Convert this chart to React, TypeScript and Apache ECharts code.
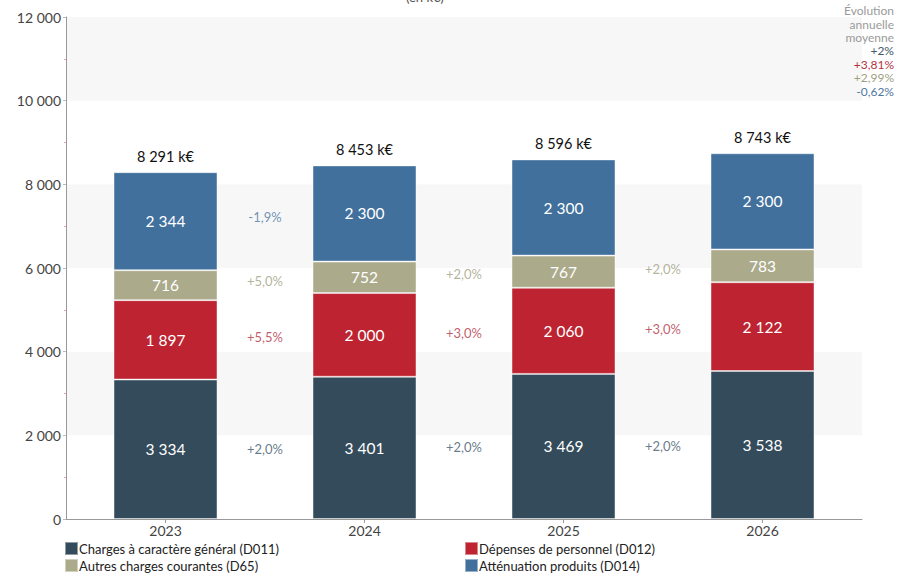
import React, { useEffect, useRef } from "react";
import * as echarts from "echarts";

const years = ["2023", "2024", "2025", "2026"];
const d011 = [3334, 3401, 3469, 3538];
const d012 = [1897, 2000, 2060, 2122];
const d65 = [716, 752, 767, 783];
const d014 = [2344, 2300, 2300, 2300];

const seriesNames = [
  "Charges à caractère général (D011)",
  "Dépenses de personnel (D012)",
  "Autres charges courantes (D65)",
  "Atténuation produits (D014)",
];
const colors = ["#344b5b", "#bd2331", "#abaa8b", "#41709d"];
const growthColors = ["#41576a", "#b3323f", "#a09f82", "#4f77a0"];

// growth labels between consecutive years, per series (null = not shown)
const growthD011 = ["+2,0%", "+2,0%", "+2,0%"];
const growthD012 = ["+5,5%", "+3,0%", "+3,0%"];
const growthD65 = ["+5,0%", "+2,0%", "+2,0%"];
const growthD014 = ["-1,9%", null, null];

const avgLabels = ["+2%", "+3,81%", "+2,99%", "-0,62%"];
const avgTitle = ["Évolution", "annuelle", "moyenne"];
const yTicks = { min: 0, max: 12000, interval: 2000 };

const FONT = "Lato";

function fmt(n: number) {
  return String(n).replace(/\B(?=(\d{3})+(?!\d))/g, " ");
}

export default function App() {
  const ref = useRef<HTMLDivElement>(null);
  useEffect(() => {
    document.body.style.margin = "0";
    if (!ref.current) return;
    const chart = echarts.init(ref.current, null, { renderer: "svg" });
    const stacks = [d011, d012, d65, d014];
    const growth = [growthD011, growthD012, growthD65, growthD014];
    const totals = years.map((_, i) => stacks.reduce((s, a) => s + a[i], 0));
    const centers = stacks.map((arr, k) =>
      arr.map((v, i) => {
        let below = 0;
        for (let j = 0; j < k; j++) below += stacks[j][i];
        return below + v / 2;
      })
    );

    const barSeries = stacks.map((arr, k) => ({
      name: seriesNames[k],
      type: "bar",
      stack: "total",
      barWidth: 104,
      data: arr,
      itemStyle: {
        color: colors[k],
        borderColor: "rgba(255,255,255,0.45)",
        borderWidth: 1,
      },
      label: {
        show: true,
        position: "inside",
        color: "#ffffff",
        fontSize: 15.5,
        fontFamily: FONT,
        formatter: (p: any) => fmt(p.value),
      },
      z: 2,
    }));

    const totalSeries = {
      name: "totals",
      type: "bar",
      stack: "total",
      barWidth: 104,
      data: years.map(() => 0),
      itemStyle: { color: "transparent" },
      label: {
        show: true,
        position: "top",
        distance: 8,
        color: "#111111",
        fontSize: 14.5,
        fontFamily: FONT,
        formatter: (p: any) => fmt(totals[p.dataIndex]) + " k€",
      },
      silent: true,
    };

    const growthSeries = growth.map((g, k) => ({
      name: "growth" + k,
      type: "scatter",
      xAxisIndex: 1,
      yAxisIndex: 0,
      symbolSize: 0,
      silent: true,
      data: g
        .map((txt, i) =>
          txt
            ? {
                value: [i + 1, (centers[k][i] + centers[k][i + 1]) / 2],
                txt,
              }
            : null
        )
        .filter((x) => x),
      label: {
        show: true,
        position: "inside",
        color: growthColors[k],
        fontSize: 13,
        fontFamily: FONT,
        formatter: (p: any) => p.data.txt,
      },
      z: 5,
    }));

    const rich: any = {
      t: { fill: "#9a9a9a", fontSize: 12, fontFamily: FONT, lineHeight: 13.4, align: "right" },
    };
    avgLabels.forEach((_, i) => {
      rich["g" + i] = {
        fill: growthColors[i],
        fontSize: 12,
        fontFamily: FONT,
        lineHeight: 13.4,
        align: "right",
      };
    });
    const avgText =
      avgTitle.map((t) => `{t|${t}}`).join("\n") +
      "\n" +
      avgLabels.map((t, i) => `{g${i}|${t}}`).join("\n");

    const graphics: any[] = [
      {
        type: "text",
        x: 425,
        y: -3,
        z: 100,
        style: {
          text: "(en k€)",
          fill: "#555555",
          font: `13px ${FONT}`,
          align: "center",
          verticalAlign: "middle",
        },
      },
      {
        type: "text",
        x: 894,
        y: 4,
        z: 100,
        style: {
          text: avgText,
          rich,
          align: "right",
          verticalAlign: "top",
        },
      },
    ];

    const legendText = { color: "#222222", fontSize: 13, fontFamily: FONT, padding: [0, 0, 0, -4] };
    chart.setOption({
      animation: false,
      textStyle: { fontFamily: FONT },
      grid: { left: 66, right: 42, top: 17, bottom: 55 },
      legend: [
        {
          orient: "vertical",
          left: 64,
          top: 541,
          itemWidth: 13,
          itemHeight: 13,
          itemGap: 2,
          padding: 0,
          icon: "rect",
          data: [seriesNames[0], seriesNames[2]],
          textStyle: legendText,
        },
        {
          orient: "vertical",
          left: 464,
          top: 541,
          itemWidth: 13,
          itemHeight: 13,
          itemGap: 2,
          padding: 0,
          icon: "rect",
          data: [seriesNames[1], seriesNames[3]],
          textStyle: legendText,
        },
      ],
      xAxis: [
        {
          type: "category",
          data: years,
          axisLine: { lineStyle: { color: "#999999", width: 1 } },
          axisTick: { show: true, alignWithLabel: true, length: 4, lineStyle: { color: "#999999" } },
          axisLabel: { color: "#444444", fontSize: 14, fontFamily: FONT, margin: 4 },
        },
        { type: "value", min: 0, max: 4, show: false },
      ],
      yAxis: {
        type: "value",
        min: yTicks.min,
        max: yTicks.max,
        interval: yTicks.interval,
        axisLine: { show: true, lineStyle: { color: "#999999" } },
        axisTick: { show: true, length: 3, lineStyle: { color: "#bbbbbb" } },
        minorTick: { show: true, splitNumber: 2, length: 2, lineStyle: { color: "#f0a0a0" } },
        splitLine: { show: false },
        splitArea: { show: true, areaStyle: { color: ["#ffffff", "#f7f7f7"] } },
        axisLabel: {
          color: "#444444",
          fontSize: 14,
          fontFamily: FONT,
          margin: 5,
          formatter: (v: number) => fmt(v),
        },
      },
      series: [...barSeries, totalSeries, ...growthSeries],
      graphic: graphics,
    });
    return () => chart.dispose();
  }, []);
  return <div ref={ref} style={{ width: 904, height: 574 }} />;
}
